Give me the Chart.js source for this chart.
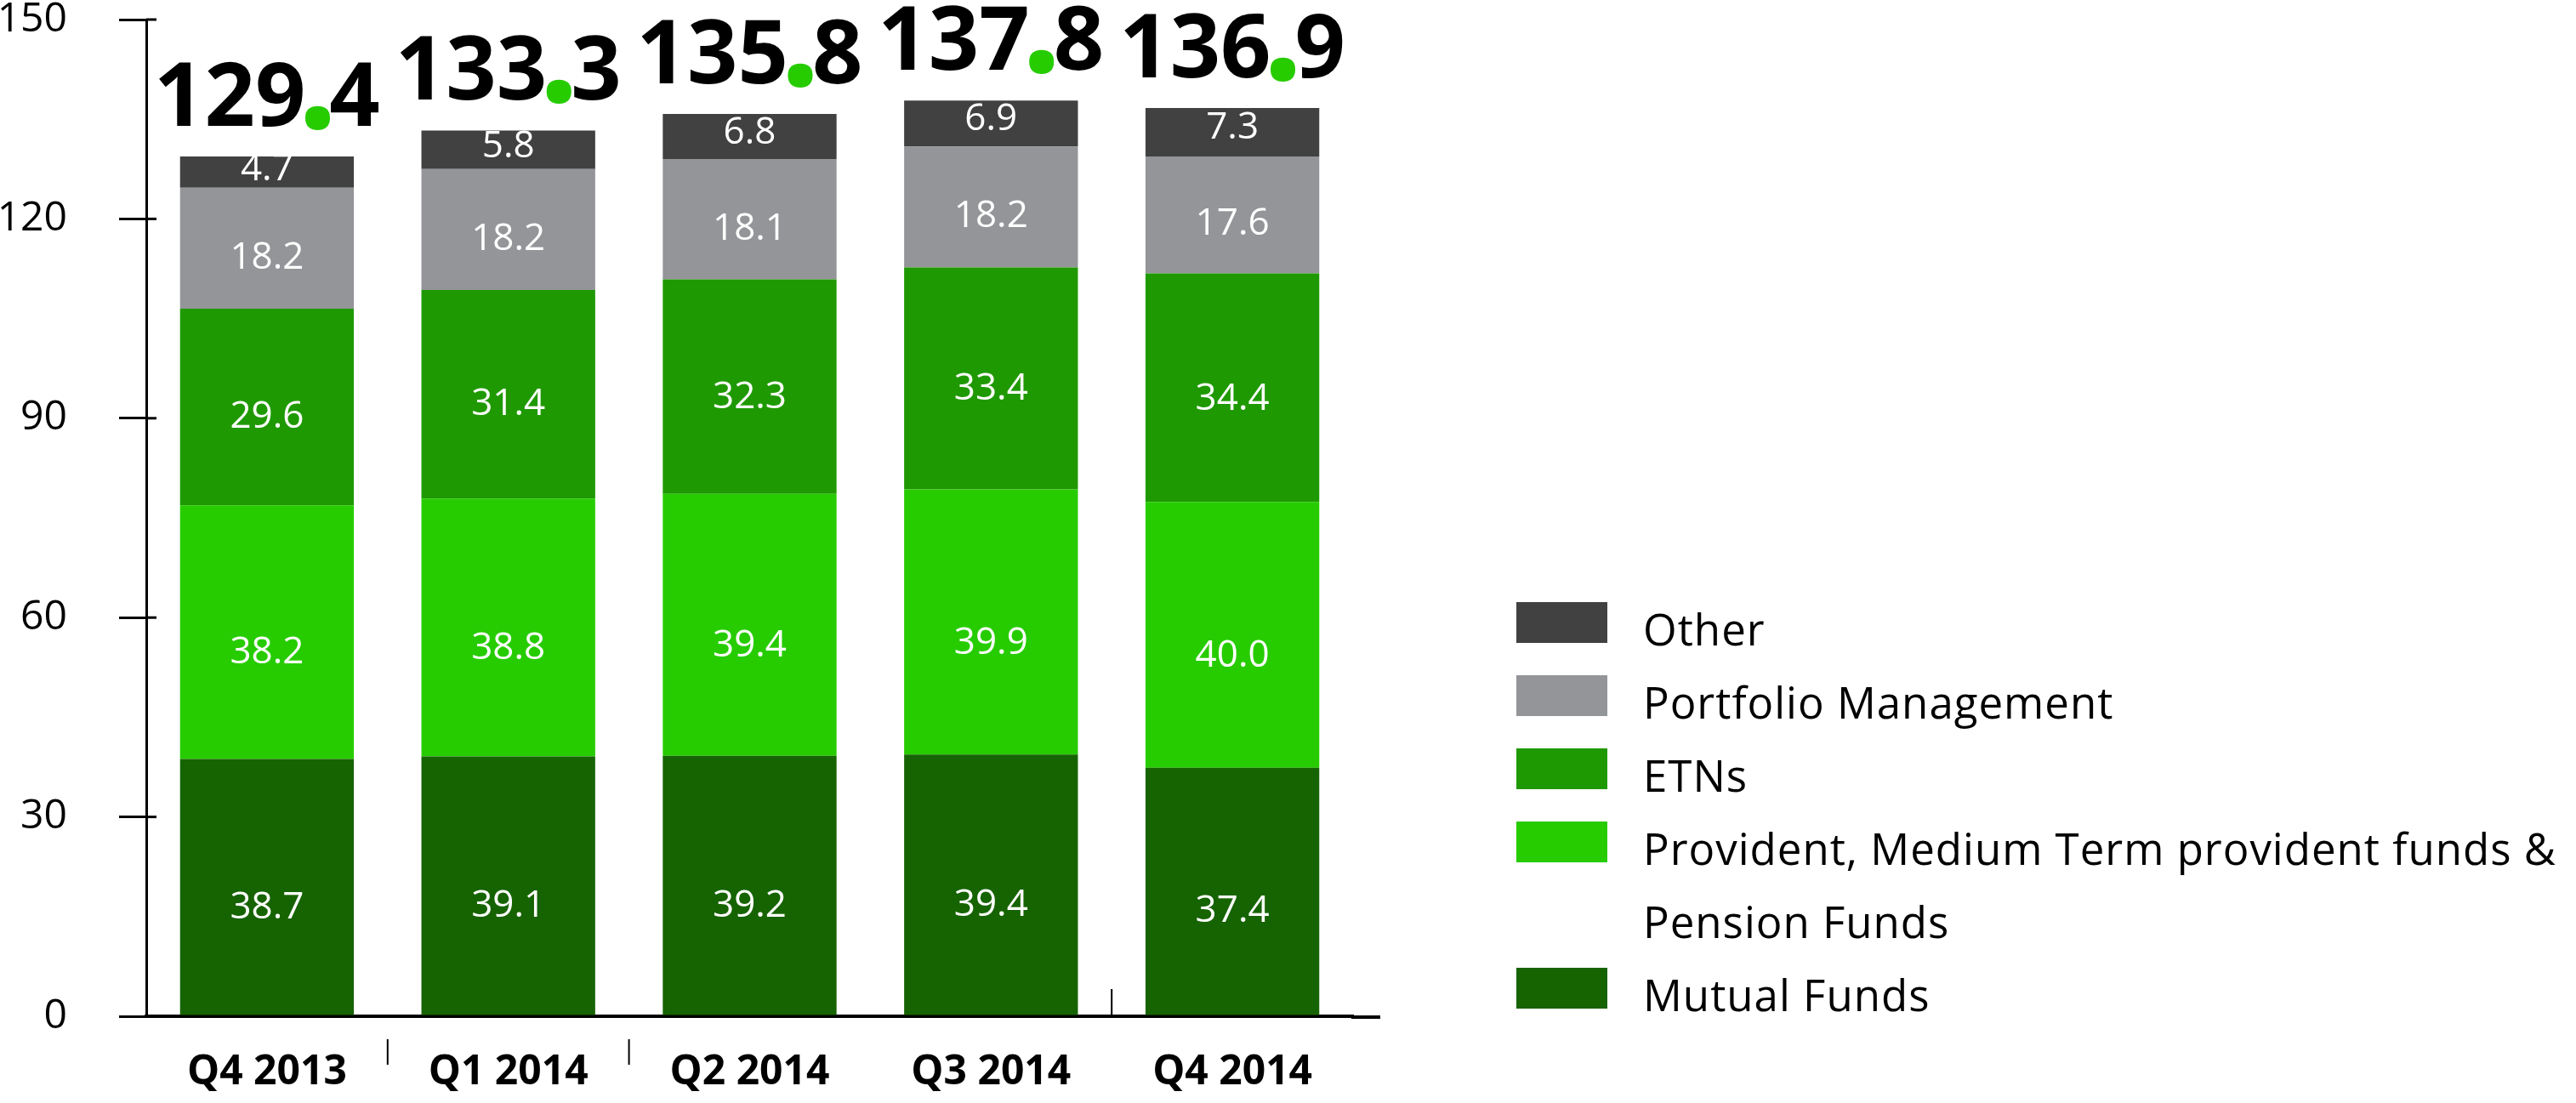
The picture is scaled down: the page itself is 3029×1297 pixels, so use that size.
<!DOCTYPE html>
<html lang="en">
<head>
<meta charset="utf-8">
<title>Assets under management</title>
<script src="https://cdn.jsdelivr.net/npm/chart.js@4.4.1/dist/chart.umd.min.js"></script>
<style>
    html, body { margin: 0; padding: 0; background: #fff; }
    #wrap { position: relative; width: 3029px; height: 1297px; }
    #legend {
        position: absolute; left: 1783px; top: 696px; margin: 0; padding: 0; list-style: none;
        font-family: "Open Sans", sans-serif; font-size: 51px; font-weight: 500; letter-spacing: 1px;
        line-height: 86px; color: #000;
    }
    #legend li { position: relative; padding-left: 149px; white-space: nowrap; }
    #legend .box { position: absolute; left: 0; top: 12px; width: 107px; height: 48px; }
</style>
</head>
<body>
<div id="wrap">
    <canvas id="aumChart" width="3029" height="1297"></canvas>
    <ul id="legend"></ul>
</div>
<script>
// --- data ---
const quarters = ['Q4 2013', 'Q1 2014', 'Q2 2014', 'Q3 2014', 'Q4 2014'];
const mutualFunds = [38.7, 39.1, 39.2, 39.4, 37.4];
const providentFunds = [38.2, 38.8, 39.4, 39.9, 40.0];
const etns = [29.6, 31.4, 32.3, 33.4, 34.4];
const portfolioManagement = [18.2, 18.2, 18.1, 18.2, 17.6];
const other = [4.7, 5.8, 6.8, 6.9, 7.3];
const totals = ['129.4', '133.3', '135.8', '137.8', '136.9'];
const yTicks = [0, 30, 60, 90, 120, 150];

const providentLabel = ['Provident, Medium Term provident funds &', 'Pension Funds'];

const GREEN_DOT = '#26cc00';

document.addEventListener('DOMContentLoaded', () => {
    const canvas = document.getElementById('aumChart');

    // labels inside each segment (white), a bit below the middle like the original
    const segmentLabels = {
        id: 'segmentLabels',
        afterDatasetsDraw(chart) {
            const ctx = chart.ctx;
            const frac = [0.58, 0.58, 0.55, 0.58, 0.42];
            ctx.save();
            ctx.font = '500 44px "Open Sans"';
            ctx.fillStyle = '#fff';
            ctx.textAlign = 'center';
            ctx.textBaseline = 'middle';
            chart.data.datasets.forEach((ds, di) => {
                chart.getDatasetMeta(di).data.forEach((bar, i) => {
                    const y = bar.y + (bar.base - bar.y) * frac[di];
                    ctx.fillText(ds.data[i].toFixed(1), bar.x, y);
                });
            });
            ctx.restore();
        }
    };

    // big totals above the bars, decimal point in green
    const totalLabels = {
        id: 'totalLabels',
        afterDatasetsDraw(chart) {
            const ctx = chart.ctx;
            const topMeta = chart.getDatasetMeta(chart.data.datasets.length - 1);
            ctx.save();
            ctx.textBaseline = 'alphabetic';
            topMeta.data.forEach((bar, i) => {
                const [intPart, decPart] = totals[i].split('.');
                const baseY = bar.y - 36;
                const gap = 28;
                ctx.font = 'bold 104px "Open Sans"';
                const wInt = ctx.measureText(intPart).width;
                const wDec = ctx.measureText(decPart).width;
                const x = bar.x - (wInt + gap + wDec) / 2;
                ctx.fillStyle = '#000';
                ctx.textAlign = 'left';
                ctx.fillText(intPart, x, baseY);
                ctx.fillText(decPart, x + wInt + gap, baseY);
                ctx.font = 'bold 170px "Open Sans"';
                ctx.fillStyle = GREEN_DOT;
                ctx.textAlign = 'center';
                ctx.fillText('.', x + wInt + gap / 2, baseY + 3);
            });
            ctx.restore();
        }
    };

    // extra axis decorations: ticks crossing the y axis, odd category separators
    const axisMarks = {
        id: 'axisMarks',
        afterDraw(chart) {
            const ctx = chart.ctx;
            const { left, right, bottom } = chart.chartArea;
            const yScale = chart.scales.y;
            const xScale = chart.scales.x;
            ctx.save();
            ctx.strokeStyle = '#000';
            ctx.lineWidth = 3;
            yTicks.slice(1).forEach(v => {
                const y = yScale.getPixelForValue(v);
                ctx.beginPath();
                ctx.moveTo(left, y);
                ctx.lineTo(left + 12, y);
                ctx.stroke();
            });
            // baseline runs a little past the last bar
            ctx.lineWidth = 4;
            ctx.beginPath();
            ctx.moveTo(right - 2, bottom + 1);
            ctx.lineTo(right + 32, bottom + 1);
            ctx.stroke();
            // separators between categories
            ctx.lineWidth = 2;
            const sep = i => (xScale.getPixelForValue(i) + xScale.getPixelForValue(i + 1)) / 2;
            [0, 1].forEach(i => {
                ctx.beginPath();
                ctx.moveTo(sep(i), bottom + 27);
                ctx.lineTo(sep(i), bottom + 57);
                ctx.stroke();
            });
            ctx.beginPath();
            ctx.moveTo(sep(3), bottom - 32);
            ctx.lineTo(sep(3), bottom);
            ctx.stroke();
            ctx.restore();
        }
    };

    const chart = new Chart(canvas, {
        type: 'bar',
        data: {
            labels: quarters,
            datasets: [
                { label: 'Mutual Funds', data: mutualFunds, backgroundColor: '#166301' },
                { label: providentLabel.join(' '), data: providentFunds, backgroundColor: '#26cc00' },
                { label: 'ETNs', data: etns, backgroundColor: '#1f9902' },
                { label: 'Portfolio Management', data: portfolioManagement, backgroundColor: '#939598' },
                { label: 'Other', data: other, backgroundColor: '#414141' }
            ]
        },
        options: {
            responsive: false,
            animation: false,
            layout: { padding: { top: 23, right: 1438, bottom: 6, left: 0 } },
            datasets: { bar: { barPercentage: 0.72, categoryPercentage: 1, borderWidth: 0 } },
            plugins: { legend: { display: false }, tooltip: { enabled: false } },
            scales: {
                x: {
                    stacked: true,
                    grid: { display: false, drawTicks: false },
                    border: { display: true, color: '#000', width: 4 },
                    ticks: { color: '#000', padding: 38, font: { family: 'Open Sans', size: 48, weight: 'bold' } },
                    afterFit: s => { s.height = 96; s.paddingLeft = 0; s.paddingRight = 0; }
                },
                y: {
                    stacked: true,
                    min: 0,
                    max: 150,
                    afterBuildTicks: s => { s.ticks = yTicks.map(v => ({ value: v })); },
                    grid: { drawOnChartArea: false, drawTicks: true, tickLength: 32, color: '#000', lineWidth: 3 },
                    border: { display: true, color: '#000', width: 3 },
                    ticks: { color: '#000', padding: 61, font: { family: 'Open Sans', size: 48 } },
                    afterFit: s => { s.width = 172; s.paddingTop = 0; s.paddingBottom = 0; }
                }
            }
        },
        plugins: [segmentLabels, totalLabels, axisMarks]
    });

    // HTML legend, top series first; the provident label wraps onto two lines
    const legendEl = document.getElementById('legend');
    chart.data.datasets.slice().reverse().forEach(ds => {
        const li = document.createElement('li');
        const box = document.createElement('span');
        box.className = 'box';
        box.style.background = ds.backgroundColor;
        li.appendChild(box);
        const lines = ds.label === providentLabel.join(' ') ? providentLabel : [ds.label];
        lines.forEach((line, k) => {
            if (k > 0) li.appendChild(document.createElement('br'));
            li.appendChild(document.createTextNode(line));
        });
        legendEl.appendChild(li);
    });
});
</script>
</body>
</html>
